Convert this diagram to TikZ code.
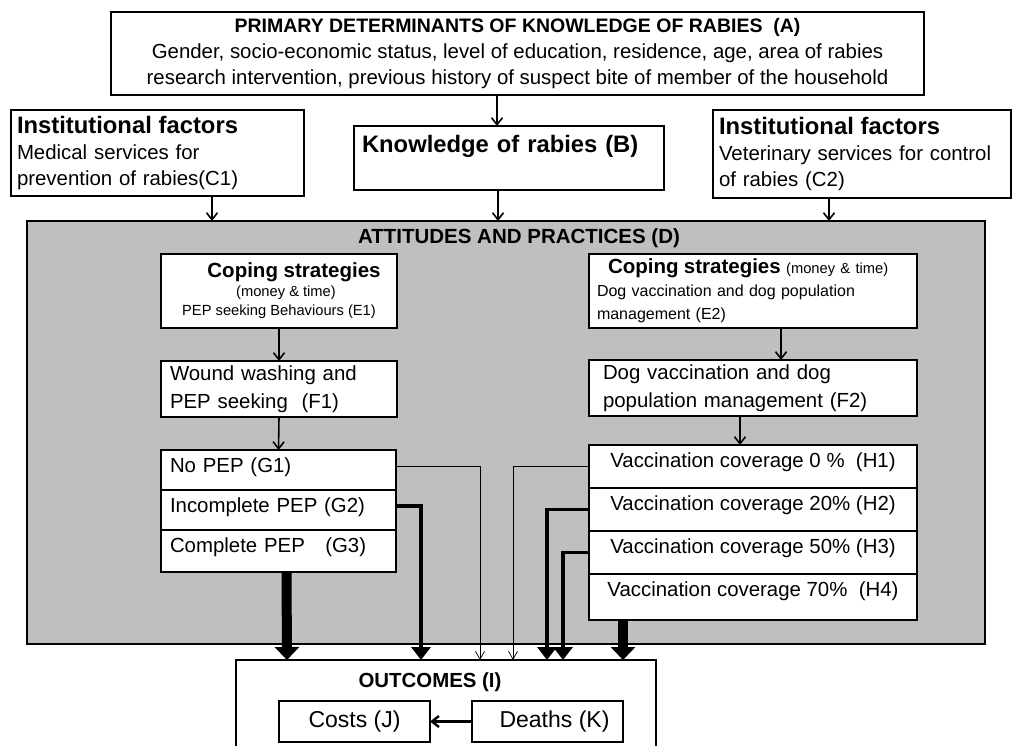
\documentclass[tikz,border=0pt]{standalone}
\usepackage{fontspec}
\setmainfont{Liberation Sans}
\usetikzlibrary{arrows.meta}
\definecolor{panelgray}{RGB}{191,191,191}

\begin{document}
\begin{tikzpicture}
  [x=1pt,y=-1pt,
   box/.style={draw,fill=white,line width=1.1pt,outer sep=0pt,inner xsep=8pt,inner ysep=3pt,
     font=\fontsize{20.4}{26}\selectfont},
   arr/.style={line width=1.6pt,-{Straight Barb[length=7pt,width=11pt]}},
   thinarr/.style={line width=0.7pt,-{Straight Barb[length=8pt,width=9pt]}},
   thickarr/.style={line width=3.4pt,-{Triangle[length=13pt,width=19pt]}},
   fatarr/.style={line width=10pt,-{Triangle[length=13pt,width=24pt]}}]
  \useasboundingbox (0,0) rectangle (1012,745);

  \node[box,minimum width=813,minimum height=83,text width=797,align=flush center] (a) at (517.5,53.5)
    {{\bfseries\fontsize{19.5}{26}\selectfont PRIMARY DETERMINANTS OF KNOWLEDGE OF RABIES\ \ (A)\par}
     Gender, socio-economic status, level of education, residence, age, area of rabies\\
     research intervention, previous history of suspect bite of member of the household};
  \node[box,minimum width=310,minimum height=64,text width=294,align=left,
    text height=23,text depth=35,font=\bfseries\fontsize{23.8}{26}\selectfont] (b) at (509,158)
    {Knowledge of rabies (B)};
  \node[box,minimum width=293,minimum height=86,inner xsep=6pt,text width=281,align=left] (c1) at (157.5,153)
    {{\bfseries\fontsize{23.8}{26}\selectfont Institutional factors\par}
     Medical services for\\ prevention of rabies(C1)};
  \node[box,minimum width=298,minimum height=88,inner xsep=6pt,text width=286,align=left] (c2) at (862,154)
    {{\bfseries\fontsize{23.8}{26}\selectfont Institutional factors\par}
     Veterinary services for control\\ of rabies (C2)};

  \node[box,fill=panelgray,minimum width=958,minimum height=423,text height=19,text depth=398,
    font=\bfseries\fontsize{20.5}{26}\selectfont] (d) at (506,432.5)
    {\hspace*{26pt}ATTITUDES AND PRACTICES (D)};

  \node[box,minimum width=236,minimum height=74,inner xsep=4pt,text width=228,align=flush center] (e1) at (279,291)
    {{\bfseries\fontsize{20.5}{24}\selectfont \hspace*{30pt}Coping strategies\par}
     {\fontsize{14.7}{19}\selectfont \hspace*{14pt}(money \& time)\par PEP seeking Behaviours (E1)\par}};
  \node[box,minimum width=236,minimum height=56,inner xsep=9pt,text width=218,align=left,
    font=\fontsize{20.4}{28}\selectfont] (f1) at (279,389)
    {Wound washing and\\ PEP seeking\ \ (F1)};
  \node[box,minimum width=235,minimum height=40,inner xsep=9pt,text width=217,align=left,
    text height=19,text depth=15] (g1) at (278.5,470) {No PEP (G1)};
  \node[box,minimum width=235,minimum height=40,inner xsep=9pt,text width=217,align=left,
    text height=19,text depth=15] (g2) at (278.5,510) {Incomplete PEP (G2)};
  \node[box,minimum width=235,minimum height=42,inner xsep=9pt,text width=217,align=left,
    text height=19,text depth=17] (g3) at (278.5,551) {Complete PEP\ \ \ (G3)};

  \node[box,minimum width=328,minimum height=74,text width=312,align=left,
    font=\fontsize{16}{23}\selectfont] (e2) at (753,291)
    {\hspace*{11pt}{\bfseries\fontsize{20.5}{23}\selectfont Coping strategies} {\fontsize{14.7}{23}\selectfont(money \& time)}\\
     Dog vaccination and dog population\\ management (E2)};
  \node[box,minimum width=328,minimum height=56,inner xsep=14pt,text width=300,align=left,
    font=\fontsize{20.4}{28}\selectfont] (f2) at (753,388)
    {Dog vaccination and dog\\ population management (F2)};
  \node[box,minimum width=328,minimum height=43,text width=312,align=flush center,
    text height=19,text depth=18] (h1) at (753,466.5) {Vaccination coverage 0 \%\ \ (H1)};
  \node[box,minimum width=328,minimum height=43,text width=312,align=flush center,
    text height=19,text depth=18] (h2) at (753,509.5) {Vaccination coverage 20\% (H2)};
  \node[box,minimum width=328,minimum height=43,text width=312,align=flush center,
    text height=19,text depth=18] (h3) at (753,552.5) {Vaccination coverage 50\% (H3)};
  \node[box,minimum width=328,minimum height=46,text width=312,align=flush center,
    text height=19,text depth=21] (h4) at (753,597) {Vaccination coverage 70\%\ \ (H4)};

  \node[minimum width=420,minimum height=100,inner ysep=3pt,outer sep=0pt,text height=24,text depth=70,
    anchor=north,font=\bfseries\fontsize{20.4}{26}\selectfont] (outc) at (446,660) {OUTCOMES (I)\hspace*{32pt}};
  \draw[line width=1.1pt] (outc.south west) -- (outc.north west) -- (outc.north east) -- (outc.south east);
  \node[box,minimum width=151,minimum height=41,font=\fontsize{23}{26}\selectfont] (costs) at (354.5,721.5) {Costs (J)};
  \node[box,minimum width=151,minimum height=41,font=\fontsize{23}{26}\selectfont] (deaths) at (547.5,721.5) {\hspace*{14pt}Deaths (K)};

  \draw[arr] ([xshift=-20.5]a.south) -- ([xshift=-12]b.north);
  \draw[arr] ([xshift=-11]b.south) -- ([xshift=-8]d.north);
  \draw[arr] ([xshift=54.5]c1.south) -- ([xshift=-294]d.north);
  \draw[arr] ([xshift=-33]c2.south) -- ([xshift=323]d.north);
  \foreach \from/\to in {e1/f1,f1/g1}
    \draw[arr] (\from.south) -- (\to.north);
  \draw[arr] ([xshift=28]e2.south) -- ([xshift=28]f2.north);
  \draw[arr] ([xshift=-13]f2.south) -- ([xshift=-13]h1.north);

  \foreach \cell/\dx/\kind in {g1/244/thinarr,g2/185/thickarr}
    \draw[\kind] ([yshift=4]\cell.east) -| ([xshift=\dx]outc.north west);
  \foreach \cell/\dx/\kind in {h1/277/thinarr,h2/311/thickarr,h3/327/thickarr}
    \draw[\kind] (\cell.west) -| ([xshift=\dx]outc.north west);
  \draw[fatarr] ([xshift=8]g3.south) -- ([xshift=51]outc.north west);
  \draw[fatarr] ([xshift=-130]h4.south) -- ([xshift=387]outc.north west);
  \draw[line width=2.4pt,-{Straight Barb[length=7pt,width=11pt]}] (deaths.west) -- (costs.east);
\end{tikzpicture}
\end{document}
